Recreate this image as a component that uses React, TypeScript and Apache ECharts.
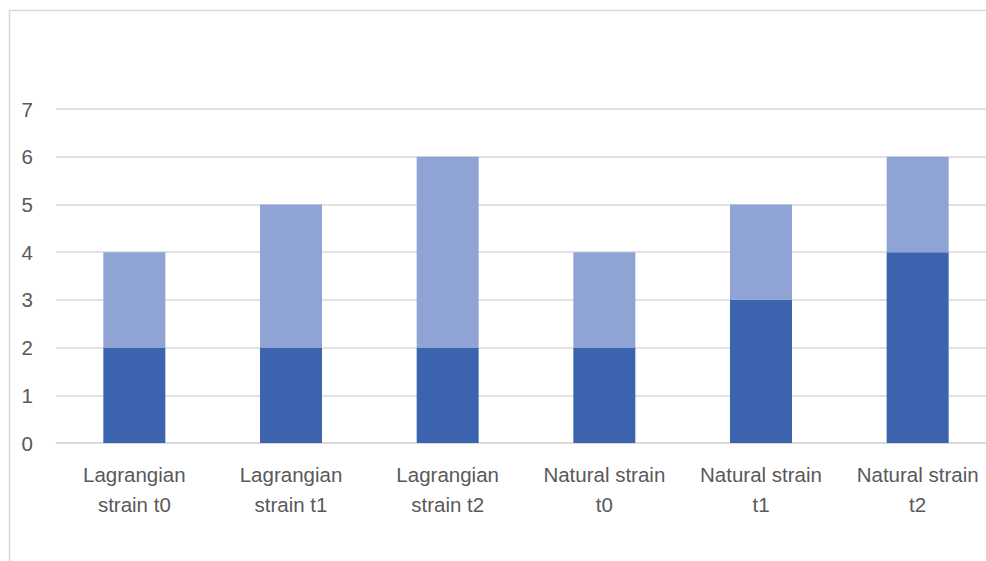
import React, { useEffect, useRef } from "react";
import * as echarts from "echarts";

const categories = [
  "Lagrangian\nstrain t0",
  "Lagrangian\nstrain t1",
  "Lagrangian\nstrain t2",
  "Natural strain\nt0",
  "Natural strain\nt1",
  "Natural strain\nt2",
];
const seriesA = [2, 2, 2, 2, 3, 4];
const seriesB = [2, 3, 4, 2, 2, 2];
const yTicks = { min: 0, max: 7, interval: 1 };

export default function App() {
  const ref = useRef<HTMLDivElement>(null);
  useEffect(() => {
    if (!ref.current) return;
    const chart = echarts.init(ref.current, undefined, { renderer: "svg" });
    const font = "'Liberation Sans', Arial, sans-serif";
    chart.setOption({
      animation: false,
      backgroundColor: "#ffffff",
      graphic: [
        {
          type: "rect",
          shape: { x: 9.5, y: 10.5, width: 1040, height: 600 },
          style: { fill: "none", stroke: "#d9d9d9", lineWidth: 1.5 },
          silent: true,
        },
      ],
      grid: { left: 56, right: 0, top: 109, bottom: 118 },
      xAxis: {
        type: "category",
        data: categories,
        axisLine: { show: true, lineStyle: { color: "#d9d9d9", width: 1.5 } },
        axisTick: { show: false },
        axisLabel: {
          color: "#595959",
          fontFamily: font,
          fontSize: 20.5,
          lineHeight: 30,
          margin: 16,
          interval: 0,
        },
      },
      yAxis: {
        type: "value",
        min: yTicks.min,
        max: yTicks.max,
        interval: yTicks.interval,
        axisLine: { show: false },
        axisTick: { show: false },
        splitLine: { lineStyle: { color: "#d9d9d9", width: 1.5 } },
        axisLabel: {
          color: "#595959",
          fontFamily: font,
          fontSize: 20.5,
          margin: 23,
        },
      },
      series: [
        {
          type: "bar",
          stack: "s",
          data: seriesA,
          barWidth: 62,
          itemStyle: { color: "#3c64ae" },
        },
        {
          type: "bar",
          stack: "s",
          data: seriesB,
          barWidth: 62,
          itemStyle: { color: "#8fa3d5" },
        },
      ],
    });
    return () => chart.dispose();
  }, []);
  return (
    <div
      style={{
        position: "fixed",
        left: 0,
        top: 0,
        width: 986,
        height: 561,
        overflow: "hidden",
      }}
    >
      <div ref={ref} style={{ width: 996, height: 561 }} />
    </div>
  );
}
